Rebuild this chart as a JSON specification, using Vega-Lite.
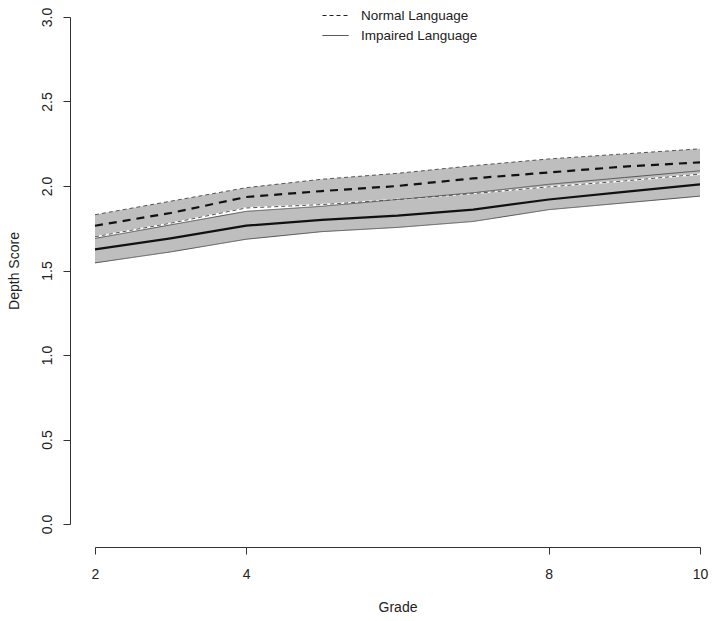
{
  "$schema": "https://vega.github.io/schema/vega-lite/v6.json",
  "width": 605,
  "height": 507,
  "autosize": {"type": "none"},
  "padding": {"left": 95, "top": 17, "right": 14, "bottom": 97},
  "background": "white",
  "config": {
    "view": {"stroke": null},
    "font": "Liberation Sans",
    "axis": {"grid": false, "domainColor": "#333", "tickColor": "#333", "labelColor": "#222", "titleColor": "#222", "labelFontSize": 14, "titleFontSize": 14, "titleFontWeight": "normal", "tickSize": 7, "labelFont": "Liberation Sans", "titleFont": "Liberation Sans"}
  },
  "data": {"values": [
    {"grade": 2, "group": "Normal Language", "lo": 1.70, "mean": 1.765, "hi": 1.83},
    {"grade": 3, "group": "Normal Language", "lo": 1.78, "mean": 1.84, "hi": 1.91},
    {"grade": 4, "group": "Normal Language", "lo": 1.87, "mean": 1.935, "hi": 1.99},
    {"grade": 5, "group": "Normal Language", "lo": 1.89, "mean": 1.97, "hi": 2.04},
    {"grade": 6, "group": "Normal Language", "lo": 1.92, "mean": 2.00, "hi": 2.075},
    {"grade": 7, "group": "Normal Language", "lo": 1.955, "mean": 2.045, "hi": 2.12},
    {"grade": 8, "group": "Normal Language", "lo": 1.995, "mean": 2.08, "hi": 2.16},
    {"grade": 9, "group": "Normal Language", "lo": 2.03, "mean": 2.115, "hi": 2.19},
    {"grade": 10, "group": "Normal Language", "lo": 2.07, "mean": 2.14, "hi": 2.22},
    {"grade": 2, "group": "Impaired Language", "lo": 1.545, "mean": 1.625, "hi": 1.69},
    {"grade": 3, "group": "Impaired Language", "lo": 1.61, "mean": 1.69, "hi": 1.77},
    {"grade": 4, "group": "Impaired Language", "lo": 1.685, "mean": 1.765, "hi": 1.85},
    {"grade": 5, "group": "Impaired Language", "lo": 1.73, "mean": 1.80, "hi": 1.88},
    {"grade": 6, "group": "Impaired Language", "lo": 1.755, "mean": 1.825, "hi": 1.92},
    {"grade": 7, "group": "Impaired Language", "lo": 1.79, "mean": 1.86, "hi": 1.96},
    {"grade": 8, "group": "Impaired Language", "lo": 1.86, "mean": 1.92, "hi": 2.01},
    {"grade": 9, "group": "Impaired Language", "lo": 1.90, "mean": 1.965, "hi": 2.05},
    {"grade": 10, "group": "Impaired Language", "lo": 1.94, "mean": 2.01, "hi": 2.09}
  ]},
  "encoding": {
    "x": {"field": "grade", "type": "quantitative", "title": "Grade",
      "scale": {"domain": [2, 10], "nice": false, "zero": false},
      "axis": {"values": [2, 4, 8, 10], "offset": 23, "labelPadding": 13, "titlePadding": 19, "labelFlush": false}},
    "y": {"type": "quantitative", "title": "Depth Score",
      "scale": {"domain": [0, 3], "nice": false, "zero": false},
      "axis": {"values": [0, 0.5, 1, 1.5, 2, 2.5, 3], "format": ".1f", "offset": 25, "labelAngle": -90, "labelPadding": 9, "titlePadding": 19, "labelFlush": false}}
  },
  "layer": [
    {
      "mark": {"type": "area", "color": "#BEBEBE", "opacity": 1},
      "encoding": {
        "y": {"field": "lo", "type": "quantitative"},
        "y2": {"field": "hi"},
        "detail": {"field": "group"}
      }
    },
    {
      "transform": [{"filter": "datum.group === 'Normal Language'"}],
      "mark": {"type": "line", "stroke": "white", "strokeWidth": 1.5},
      "encoding": {"y": {"field": "lo", "type": "quantitative"}}
    },
    {
      "transform": [{"fold": ["lo", "hi"], "as": ["bound", "val"]}],
      "mark": {"type": "line", "stroke": "#555", "strokeWidth": 1},
      "encoding": {
        "y": {"field": "val", "type": "quantitative"},
        "detail": {"field": "bound"},
        "strokeDash": {"field": "group", "type": "nominal",
          "scale": {"domain": ["Normal Language", "Impaired Language"], "range": [[4, 3], [1, 0]]},
          "legend": {"title": null, "orient": "none", "legendX": 227, "legendY": -15, "symbolType": "stroke", "symbolSize": 676, "symbolStrokeWidth": 1, "symbolStrokeColor": "#222", "labelFontSize": 13.5, "labelColor": "#222", "labelFont": "Liberation Sans", "labelOffset": 12, "rowPadding": -20, "padding": 0}}
      }
    },
    {
      "transform": [{"filter": "datum.group === 'Normal Language'"}],
      "mark": {"type": "line", "stroke": "#111", "strokeWidth": 2.2, "strokeDash": [8, 6]},
      "encoding": {"y": {"field": "mean", "type": "quantitative"}}
    },
    {
      "transform": [{"filter": "datum.group === 'Impaired Language'"}],
      "mark": {"type": "line", "stroke": "#111", "strokeWidth": 2.2},
      "encoding": {"y": {"field": "mean", "type": "quantitative"}}
    }
  ]
}
